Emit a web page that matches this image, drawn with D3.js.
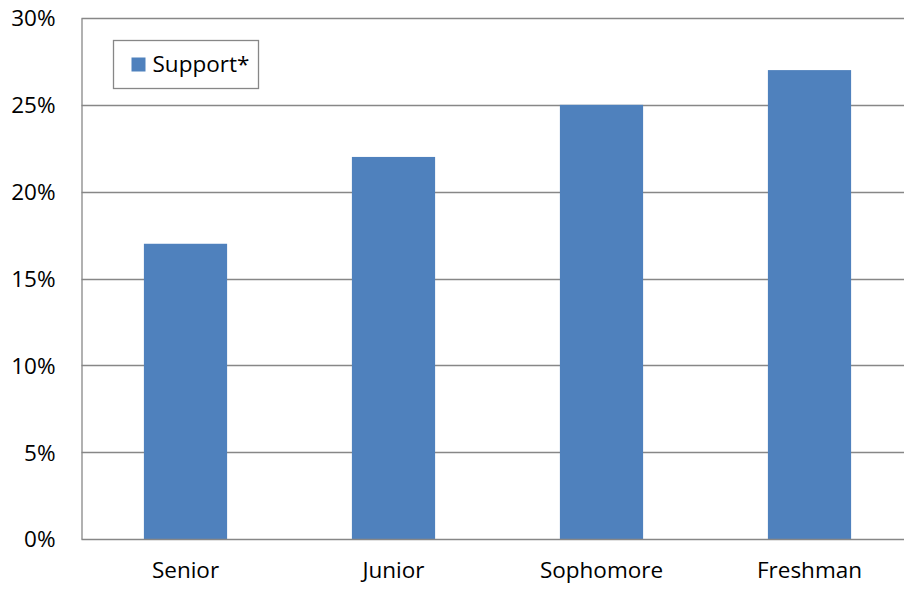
<!DOCTYPE html>
<html>
<head>
  <meta charset="utf-8">
  <title>Support by class</title>
  <style type="text/css">
    body { margin: 0; background: #fff; }
    svg { display: block; font-family: "Open Sans", "Noto Sans", sans-serif; }
    .tick text { fill: #000; font-size: 22.5px; }
  </style>
</head>
<body>
<svg id="vis" width="904" height="589"></svg>

<script src="https://cdnjs.cloudflare.com/ajax/libs/d3/7.8.5/d3.min.js"></script>
<script type="text/javascript">
  // chart data
  var categories = ['Senior', 'Junior', 'Sophomore', 'Freshman']
  var support = [0.17, 0.22, 0.25, 0.27]
  var yTicks = [0, 0.05, 0.10, 0.15, 0.20, 0.25, 0.30]
  var seriesName = 'Support*'

  var svg = d3.select('#vis')
  var margin = { top: 18, left: 81.5, bottom: 50 }
  var height = +svg.attr('height')
  var font = '"Open Sans", "Noto Sans", sans-serif'

  var x = d3.scaleBand()
    .domain(categories)
    .range([margin.left, margin.left + 208 * categories.length])
    .paddingInner(0.6)
    .paddingOuter(0.3)

  var y = d3.scaleLinear()
    .domain([0, 0.30])
    .range([height - margin.bottom, margin.top])

  // gridlines
  svg.append('g')
    .selectAll('line')
    .data(yTicks.slice(1))
    .enter().append('line')
      .attr('x1', margin.left)
      .attr('x2', 904)
      .attr('y1', function(d) { return Math.round(y(d)) + 0.5 })
      .attr('y2', function(d) { return Math.round(y(d)) + 0.5 })
      .attr('stroke', '#878787')
      .attr('stroke-width', 1.3)

  // bars
  svg.append('g')
    .selectAll('rect')
    .data(support)
    .enter().append('rect')
      .attr('x', function(d, i) { return x(categories[i]) })
      .attr('width', x.bandwidth())
      .attr('y', function(d) { return y(d) })
      .attr('height', function(d) { return y(0) - y(d) })
      .attr('fill', '#4f81bd')

  // y axis
  var yAxis = svg.append('g')
    .attr('transform', 'translate(' + margin.left + ',0)')
    .call(d3.axisLeft(y).tickValues(yTicks).tickFormat(d3.format('.0%')).tickSize(0).tickPadding(26))
    .attr('font-family', font)
  yAxis.select('.domain').attr('stroke', '#878787').attr('stroke-width', 1.3)
  yAxis.selectAll('.tick text').attr('dy', '0.35em')

  // x axis
  var xAxis = svg.append('g')
    .attr('transform', 'translate(0,' + (Math.round(y(0)) + 0.5) + ')')
    .call(d3.axisBottom(x).tickSize(0).tickPadding(23))
    .attr('font-family', font)
  xAxis.select('.domain').attr('d', 'M' + margin.left + ',0H904').attr('stroke', '#878787').attr('stroke-width', 1.3)

  // legend
  var legend = svg.append('g').attr('transform', 'translate(113.5,40.5)')
  legend.append('rect')
    .attr('width', 145).attr('height', 48)
    .attr('fill', '#fff').attr('stroke', '#878787').attr('stroke-width', 1.3)
  legend.append('rect')
    .attr('x', 18).attr('y', 17).attr('width', 14).attr('height', 14)
    .attr('fill', '#4f81bd')
  legend.append('text')
    .attr('x', 39).attr('y', 31)
    .attr('font-size', '22.5px')
    .attr('fill', '#000')
    .text(seriesName)
</script>
</body>
</html>
